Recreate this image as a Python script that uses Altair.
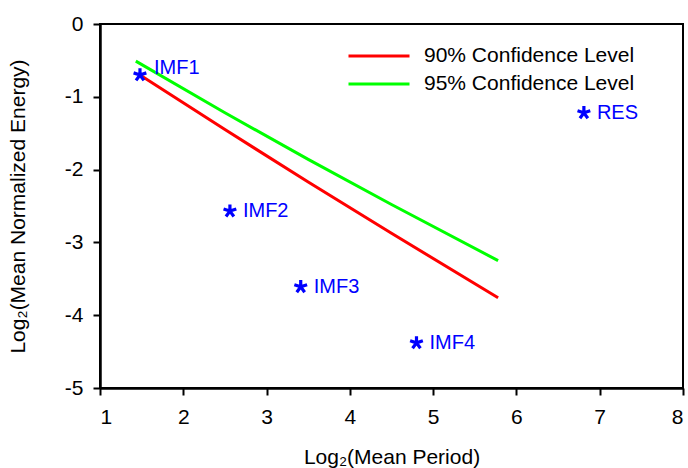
import altair as alt
import pandas as pd

# ---- data ----
series_names = ["90% Confidence Level", "95% Confidence Level"]
series_colors = ["#ff0000", "#00ff00"]

line90_x = [1.48, 2.5, 3.5, 4.5, 5.78]
line90_y = [-0.70, -1.45, -2.17, -2.875, -3.76]
line95_x = [1.43, 2.5, 3.5, 4.5, 5.78]
line95_y = [-0.51, -1.22, -1.86, -2.48, -3.25]

imf_names = ["IMF1", "IMF2", "IMF3", "IMF4", "RES"]
imf_x = [1.48, 2.56, 3.41, 4.80, 6.81]
imf_y = [-0.70, -2.57, -3.61, -4.38, -1.22]

x_ticks = [1, 2, 3, 4, 5, 6, 7, 8]
y_ticks = [-5, -4, -3, -2, -1, 0]

FONT = "Liberation Sans"

lines_df = pd.DataFrame(
    {
        "x": line90_x + line95_x,
        "y": line90_y + line95_y,
        "series": [series_names[0]] * len(line90_x) + [series_names[1]] * len(line95_x),
    }
)
pts_df = pd.DataFrame({"x": imf_x, "y": imf_y, "name": imf_names})

x_enc = alt.X(
    "x:Q",
    scale=alt.Scale(domain=[1, 8], nice=False),
    axis=alt.Axis(values=x_ticks, title="Log₂(Mean Period)", labelExpr="'' + datum.value"),
)
y_enc = alt.Y(
    "y:Q",
    scale=alt.Scale(domain=[-5, 0], nice=False),
    axis=alt.Axis(values=y_ticks, title="Log₂(Mean Normalized Energy)", labelExpr="'' + datum.value"),
)

lines = alt.Chart(lines_df).mark_line(strokeWidth=3).encode(
    x=x_enc,
    y=y_enc,
    color=alt.Color(
        "series:N",
        scale=alt.Scale(domain=series_names, range=series_colors),
        legend=alt.Legend(
            orient="none",
            legendX=247,
            legendY=21,
            title=None,
            symbolType="stroke",
            symbolSize=3721,
            symbolStrokeWidth=3,
            labelFont=FONT,
            labelFontSize=21,
            labelColor="black",
            labelOffset=13,
            labelLimit=500,
            rowPadding=6,
            clipHeight=22,
            padding=0,
        ),
    ),
    order="x:Q",
)

star_path = (
    "M0,0L0,-1M0,0L0.951,-0.309M0,0L-0.951,-0.309"
    "M0,0L-0.588,0.809M0,0L0.588,0.809"
)
stars = alt.Chart(pts_df).mark_point(
    shape=star_path, filled=False, strokeWidth=3.2, size=180, color="#0000ff", opacity=1
).encode(x="x:Q", y="y:Q")

labels_main = (
    alt.Chart(pts_df)
    .transform_filter("datum.name != 'IMF1'")
    .mark_text(align="left", baseline="middle", dx=13, fontSize=20, font=FONT, color="#0000ff")
    .encode(x="x:Q", y="y:Q", text="name:N")
)
labels_first = (
    alt.Chart(pts_df)
    .transform_filter("datum.name == 'IMF1'")
    .mark_text(align="left", baseline="middle", dx=14, dy=-7, fontSize=20, font=FONT, color="#0000ff")
    .encode(x="x:Q", y="y:Q", text="name:N")
)

chart = (
    alt.layer(lines, stars, labels_main, labels_first)
    .properties(
        width=583,
        height=364,
        autosize=alt.AutoSizeParams(type="none"),
        padding={"left": 100, "top": 24, "right": 5, "bottom": 80},
        background="white",
    )
    .configure_view(stroke="black", strokeWidth=2)
    .configure_axis(
        grid=False,
        domainColor="black",
        domainWidth=2.5,
        tickColor="black",
        tickWidth=2,
        tickSize=7,
        labelFont=FONT,
        labelFontSize=21,
        labelColor="black",
        titleFont=FONT,
        titleFontSize=21,
        titleFontWeight="normal",
        titleColor="black",
    )
    .configure_axisX(labelPadding=11, titlePadding=19)
    .configure_axisY(labelPadding=10, titlePadding=36)
)

chart.save("out.html", embed_options={"renderer": "svg", "actions": False})
